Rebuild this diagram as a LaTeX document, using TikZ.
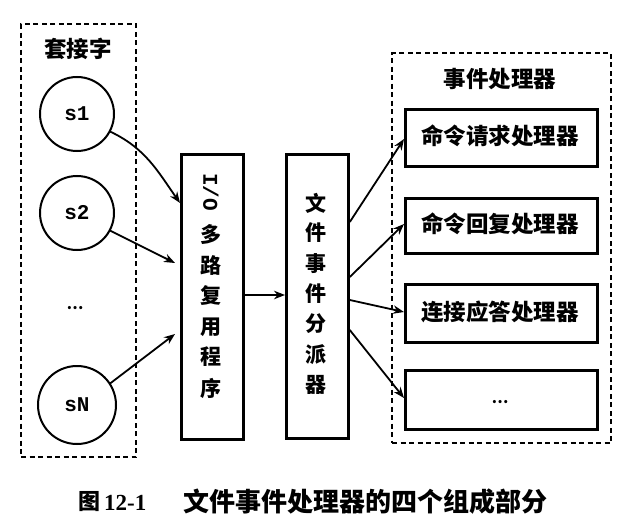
\documentclass[tikz,border=0pt]{standalone}
\usepackage{fontspec}
\usetikzlibrary{arrows.meta}
\newfontfamily\cjk{Noto Sans CJK SC}
\newfontfamily\monof{Liberation Mono}
\newfontfamily\serf{Liberation Serif}
\tikzset{
  x=1pt, y=-1pt,
  dashbox/.style={draw, line width=2.4pt, dash pattern=on 5pt off 3.5pt},
  sock/.style={draw, circle, line width=2pt, minimum size=74pt, inner sep=0pt, font=\monof\bfseries\fontsize{21}{21}\selectfont},
  solidbox/.style={draw, line width=2.8pt, inner sep=0pt},
  cjktext/.style={font=\cjk\bfseries\fontsize{22.5}{22.5}\selectfont},
  vchar/.style={font=\cjk\bfseries\fontsize{21}{21}\selectfont},
  arr/.style={line width=1.8pt, -{Stealth[length=11pt,width=8.5pt]}},
}
\begin{document}
\begin{tikzpicture}
\useasboundingbox (0,0) rectangle (621,532);
% left dashed group
\node[dashbox, minimum width=115pt, minimum height=433pt, anchor=north west] (lgrp) at (20,23) {};
\node[cjktext] (ltitle) at (78,49) {套接字};
\node[sock] (s1) at (77,114) {s1};
\node[sock] (s2) at (77,213) {s2};
\node[font=\cjk\bfseries\fontsize{15}{15}\selectfont] (sdots) at (75,308) {…};
\node[sock, minimum size=78pt] (sN) at (77,405) {sN};
% I/O multiplexer
\node[solidbox, minimum width=62pt, minimum height=285pt, anchor=north west] (io) at (180,153) {};
\node[font=\monof\bfseries\fontsize{21}{21}\selectfont, rotate=-90] (iotext) at (211,192) {I/O};
\foreach \c/\y [count=\i] in {多/235,路/265,复/296,用/327,程/357,序/388}{
  \node[vchar] (ioc\i) at (211,\y) {\c};
}
% dispatcher
\node[solidbox, minimum width=62pt, minimum height=284pt, anchor=north west] (disp) at (285,153) {};
\foreach \c/\y [count=\i] in {文/203,件/233,事/264,件/294,分/324,派/355,器/385}{
  \node[vchar] (dc\i) at (316,\y) {\c};
}
% right dashed group
\node[dashbox, minimum width=219pt, minimum height=390pt, anchor=north west] (rgrp) at (391,52) {};
\node[cjktext] (rtitle) at (500,79) {事件处理器};
\node[solidbox, minimum width=192pt, minimum height=57pt, anchor=north west] (h1) at (404,108) {};
\node[cjktext] (h1t) at (500,136) {命令请求处理器};
\node[solidbox, minimum width=192pt, minimum height=55pt, anchor=north west] (h2) at (404,197) {};
\node[cjktext] (h2t) at (500,224) {命令回复处理器};
\node[solidbox, minimum width=192pt, minimum height=58pt, anchor=north west] (h3) at (404,283) {};
\node[cjktext] (h3t) at (500,312) {连接应答处理器};
\node[solidbox, minimum width=192pt, minimum height=59pt, anchor=north west] (h4) at (404,369) {};
\node[font=\cjk\bfseries\fontsize{15}{15}\selectfont] (h4t) at (500,402) {…};
% arrow end points
\coordinate (e1) at (180,203);
\coordinate (e2) at (175,263);
\coordinate (e3) at (175,334);
% connectors
\draw[arr] (s1) ++(-28:37pt) coordinate (b1) to[out=-25,in=125] (e1);
\draw[arr] (s2) ++(-28:37pt) coordinate (b2) -- (e2);
\draw[arr] (sN) ++(33:39pt) coordinate (b3) -- (e3);
\draw[arr] (io.east |- 0,295) -- (disp.west |- 0,295);
\draw[arr] (disp.east |- 0,222) -- (h1.west |- 0,139);
\draw[arr] (disp.east |- 0,277) -- (h2.west |- 0,224);
\draw[arr] (disp.east |- 0,300) -- (h3.west |- 0,312);
\draw[arr] (disp.east |- 0,330) -- (h4.west |- 0,398);
% caption
\node[anchor=west, inner sep=0pt, font=\cjk\bfseries\fontsize{22}{22}\selectfont] (cap1) at (78,502) {图};
\node[anchor=west, inner sep=0pt, font=\serf\bfseries\fontsize{23}{23}\selectfont] (cap2) at (104,503) {12-1};
\node[anchor=west, inner sep=0pt, font=\cjk\bfseries\fontsize{26}{26}\selectfont] (cap3) at (183,502) {文件事件处理器的四个组成部分};
\end{tikzpicture}
\end{document}
